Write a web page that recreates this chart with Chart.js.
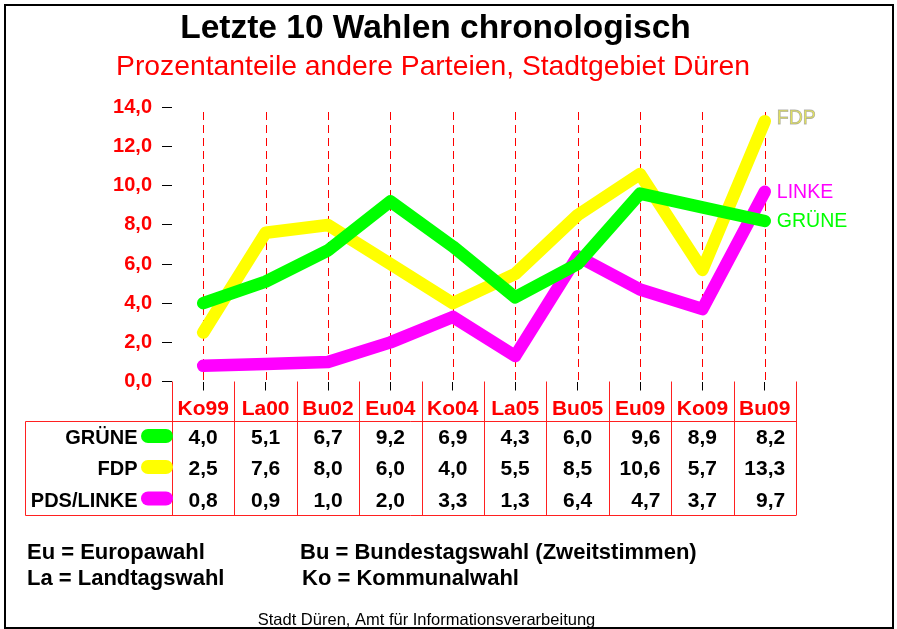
<!DOCTYPE html>
<html>
<head>
<meta charset="utf-8">
<script src="https://cdn.jsdelivr.net/npm/chart.js@4.4.0/dist/chart.umd.min.js"></script>
<style>
  html, body { margin: 0; padding: 0; background: #fff; }
  canvas { display: block; }
</style>
</head>
<body>
<canvas id="wahlChart" width="897" height="629"></canvas>
<script>
// Daten
const wahlen = ['Ko99', 'La00', 'Bu02', 'Eu04', 'Ko04', 'La05', 'Bu05', 'Eu09', 'Ko09', 'Bu09'];
const gruene = [4.0, 5.1, 6.7, 9.2, 6.9, 4.3, 6.0, 9.6, 8.9, 8.2];
const fdp = [2.5, 7.6, 8.0, 6.0, 4.0, 5.5, 8.5, 10.6, 5.7, 13.3];
const linke = [0.8, 0.9, 1.0, 2.0, 3.3, 1.3, 6.4, 4.7, 3.7, 9.7];
const yTicks = [0, 2, 4, 6, 8, 10, 12, 14];
const tabellenNamen = ['GRÜNE', 'FDP', 'PDS/LINKE'];
const endNamen = ['GRÜNE', 'FDP', 'LINKE'];
const titel = 'Letzte 10 Wahlen chronologisch';
const untertitel = 'Prozentanteile andere Parteien, Stadtgebiet Düren';
const erklaerung = [
    ['Eu = Europawahl', 'Bu = Bundestagswahl (Zweitstimmen)'],
    ['La = Landtagswahl', 'Ko = Kommunalwahl']
];
const quelle = 'Stadt Düren, Amt für Informationsverarbeitung';

const farben = ['#00ff00', '#ffff00', '#ff00ff'];
const FONT = '"Liberation Sans", Arial, Helvetica, sans-serif';

function fmt(v) {
    return v.toFixed(1).replace('.', ',');
}

// Weisser Hintergrund
const hintergrund = {
    id: 'hintergrund',
    beforeDraw(chart) {
        const ctx = chart.ctx;
        ctx.save();
        ctx.fillStyle = '#ffffff';
        ctx.fillRect(0, 0, chart.width, chart.height);
        ctx.restore();
    }
};

// Gestrichelte Linien je Wahl
const gitter = {
    id: 'gitter',
    beforeDatasetsDraw(chart) {
        const ctx = chart.ctx;
        const x = chart.scales.x;
        const area = chart.chartArea;
        ctx.save();
        ctx.strokeStyle = '#ff0000';
        ctx.lineWidth = 1;
        ctx.setLineDash([8, 5]);
        wahlen.forEach((w, i) => {
            const px = Math.round(x.getPixelForValue(i)) + 0.5;
            ctx.beginPath();
            ctx.moveTo(px, area.top + 4.5);
            ctx.lineTo(px, area.bottom);
            ctx.stroke();
        });
        ctx.restore();
    }
};

// Namen am Linienende
const endBeschriftung = {
    id: 'endBeschriftung',
    afterDatasetsDraw(chart) {
        const ctx = chart.ctx;
        ctx.save();
        ctx.font = '19.5px ' + FONT;
        ctx.textAlign = 'left';
        ctx.textBaseline = 'middle';
        chart.data.datasets.forEach((ds, i) => {
            const meta = chart.getDatasetMeta(i);
            const last = meta.data[meta.data.length - 1];
            const tx = last.x + 12;
            const ty = last.y;
            if (i === 1) {
                ctx.fillStyle = '#eeee55';
                ctx.fillText(endNamen[i], tx, ty - 3);
                ctx.strokeStyle = 'rgba(150,150,150,0.7)';
                ctx.lineWidth = 0.8;
                ctx.strokeText(endNamen[i], tx, ty - 3);
            } else {
                ctx.fillStyle = farben[i];
                ctx.fillText(endNamen[i], tx, ty + 1);
            }
        });
        ctx.restore();
    }
};

// Titel, Tabelle, Erklaerung, Rahmen
const tabelle = {
    id: 'tabelle',
    afterDraw(chart) {
        const ctx = chart.ctx;
        const x = chart.scales.x;
        const area = chart.chartArea;
        ctx.save();

        // Titel
        ctx.textAlign = 'center';
        ctx.textBaseline = 'alphabetic';
        ctx.fillStyle = '#000000';
        ctx.font = 'bold 33.5px ' + FONT;
        ctx.fillText(titel, 435.5, 38);
        ctx.fillStyle = '#ff0000';
        ctx.font = '28.3px ' + FONT;
        ctx.fillText(untertitel, 433, 74.5);

        // Tabellenlinien
        const step = x.getPixelForValue(1) - x.getPixelForValue(0);
        const links = x.getPixelForValue(0) - step / 2;
        const rechts = x.getPixelForValue(wahlen.length - 1) + step / 2;
        const oben = 421.5, unten = 515.5, tabLinks = 25.5;
        ctx.strokeStyle = '#ff2020';
        ctx.lineWidth = 1;
        for (let i = 0; i <= wahlen.length; i++) {
            const lx = Math.round(links + i * step) + 0.5;
            ctx.beginPath();
            ctx.moveTo(lx, area.bottom);
            ctx.lineTo(lx, unten);
            ctx.stroke();
        }
        ctx.beginPath();
        ctx.moveTo(tabLinks, oben);
        ctx.lineTo(rechts, oben);
        ctx.moveTo(tabLinks, unten);
        ctx.lineTo(rechts, unten);
        ctx.moveTo(tabLinks, oben);
        ctx.lineTo(tabLinks, unten);
        ctx.stroke();

        // Werte
        const reihen = [gruene, fdp, linke];
        const basis = [444, 475, 506.5];
        ctx.font = 'bold 21px ' + FONT;
        ctx.fillStyle = '#000000';
        ctx.textAlign = 'right';
        wahlen.forEach((w, i) => {
            const texte = reihen.map(r => fmt(r[i]));
            const maxW = Math.max(...texte.map(t => ctx.measureText(t).width));
            const rx = x.getPixelForValue(i) + maxW / 2;
            texte.forEach((t, j) => ctx.fillText(t, rx, basis[j]));
        });

        // Legende in der Tabelle
        ctx.font = 'bold 20px ' + FONT;
        tabellenNamen.forEach((name, j) => {
            ctx.fillStyle = '#000000';
            ctx.textAlign = 'right';
            ctx.fillText(name, 137.5, basis[j]);
            ctx.fillStyle = farben[j];
            ctx.beginPath();
            ctx.roundRect(141, basis[j] - 15, 32, 14, 7);
            ctx.fill();
        });

        // Erklaerung
        ctx.fillStyle = '#000000';
        ctx.textAlign = 'left';
        ctx.font = 'bold 22px ' + FONT;
        ctx.fillText(erklaerung[0][0], 27, 559);
        ctx.fillText(erklaerung[0][1], 300, 559);
        ctx.fillText(erklaerung[1][0], 27, 585);
        ctx.fillText(erklaerung[1][1], 302, 585);

        ctx.textAlign = 'center';
        ctx.font = '16.5px ' + FONT;
        ctx.fillText(quelle, 426.5, 625);

        // Rahmen
        ctx.strokeStyle = '#000000';
        ctx.lineWidth = 2;
        ctx.strokeRect(5, 5, 888, 623);
        ctx.restore();
    }
};

function linie(label, data, farbe) {
    return {
        label: label,
        data: data,
        borderColor: farbe,
        backgroundColor: farbe,
        borderWidth: 12.5,
        borderCapStyle: 'round',
        borderJoinStyle: 'round',
        pointRadius: 0,
        tension: 0,
        fill: false,
        clip: false
    };
}

const ctx = document.getElementById('wahlChart').getContext('2d');
new Chart(ctx, {
    type: 'line',
    data: {
        labels: wahlen,
        datasets: [
            linie(endNamen[0], gruene, farben[0]),
            linie(endNamen[1], fdp, farben[1]),
            linie(endNamen[2], linke, farben[2])
        ]
    },
    options: {
        responsive: false,
        animation: false,
        layout: {
            padding: { top: 107.5, right: 101, bottom: 207.5, left: 0 }
        },
        plugins: {
            legend: { display: false },
            tooltip: { enabled: false },
            title: { display: false }
        },
        scales: {
            x: {
                offset: true,
                afterFit(scale) { scale.height = 40; },
                border: { display: false },
                grid: {
                    drawOnChartArea: false,
                    drawTicks: true,
                    tickLength: 9,
                    color: '#000000'
                },
                ticks: {
                    color: '#ff0000',
                    padding: 6,
                    maxRotation: 0,
                    autoSkip: false,
                    font: { family: FONT, size: 21, weight: 'bold' }
                }
            },
            y: {
                min: 0,
                max: 14,
                afterFit(scale) { scale.width = 172; },
                afterBuildTicks(scale) {
                    scale.ticks = yTicks.map(v => ({ value: v }));
                },
                border: { display: false },
                grid: {
                    drawOnChartArea: false,
                    drawTicks: true,
                    tickLength: 10,
                    color: '#000000'
                },
                ticks: {
                    color: '#ff0000',
                    padding: 10,
                    font: { family: FONT, size: 20, weight: 'bold' },
                    callback: function(value) {
                        return fmt(value);
                    }
                }
            }
        }
    },
    plugins: [hintergrund, gitter, endBeschriftung, tabelle]
});
</script>
</body>
</html>
